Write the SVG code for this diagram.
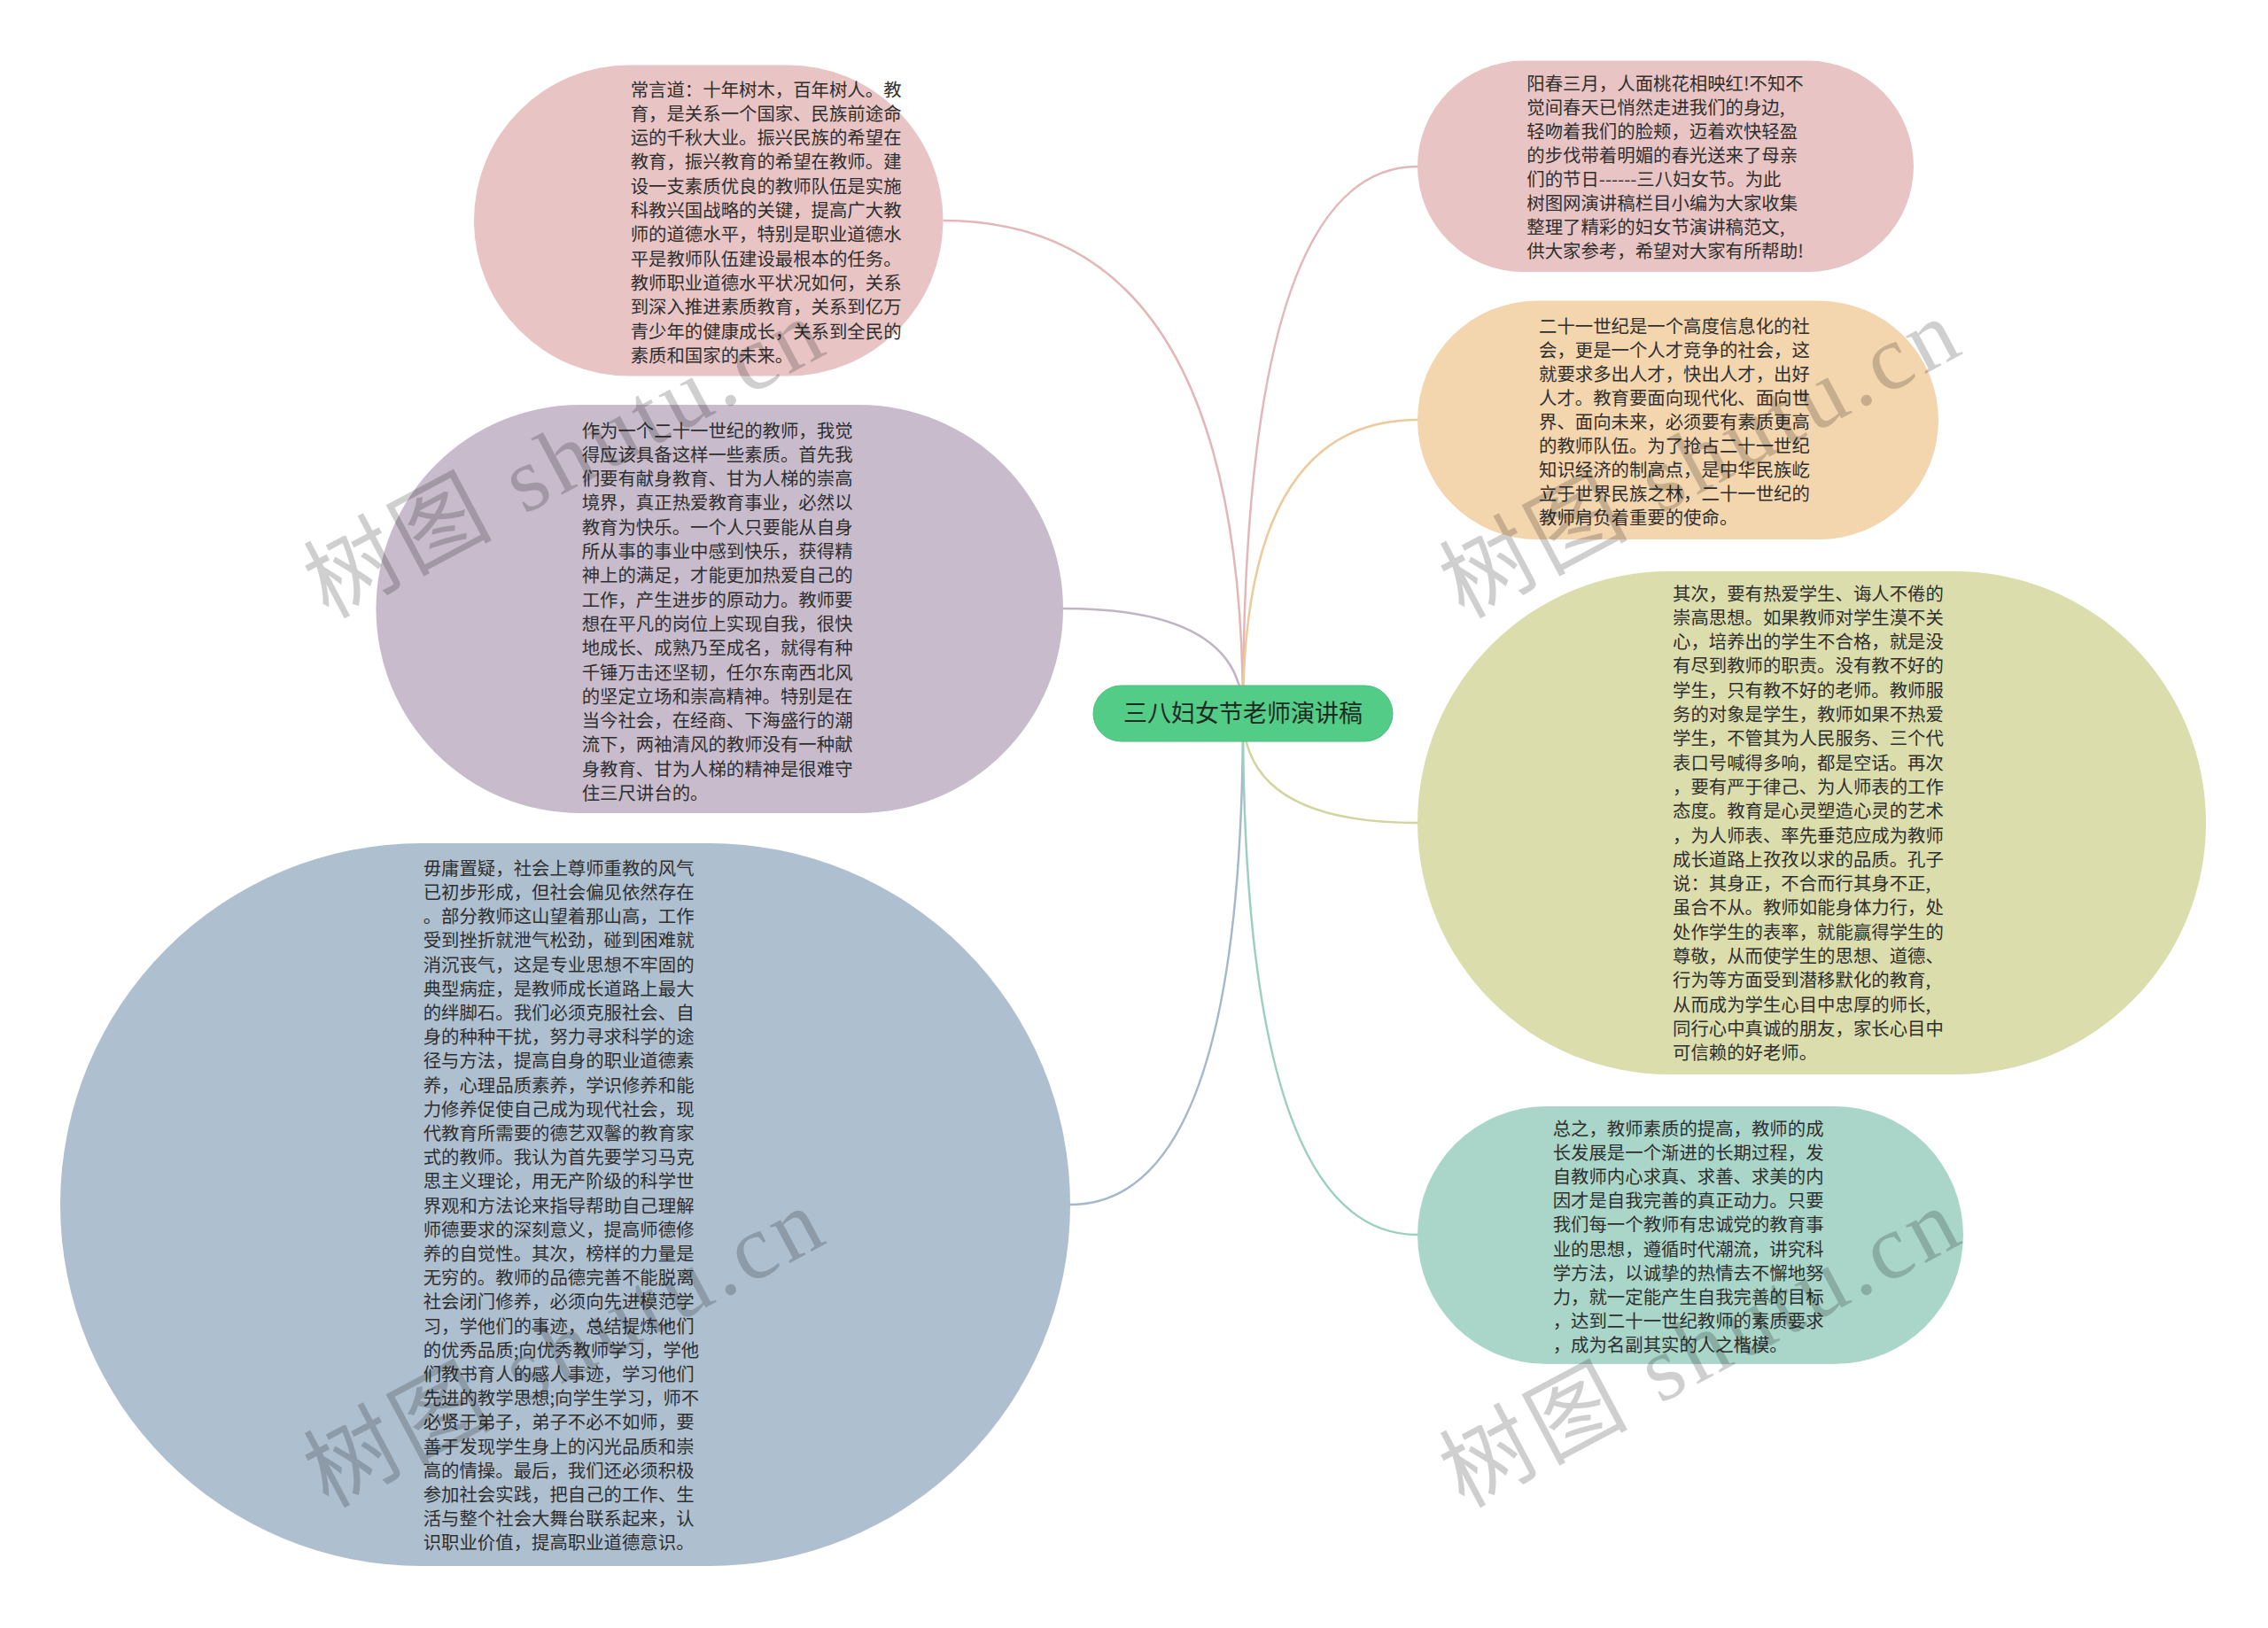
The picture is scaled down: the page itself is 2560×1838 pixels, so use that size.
<svg xmlns="http://www.w3.org/2000/svg" width="2560" height="1838" viewBox="0 0 2560 1838">
<style>
.t{font-family:"Noto Sans CJK SC","Noto Sans",sans-serif;font-size:20.4px;fill:#2f2f2f}
.ct{font-family:"Noto Sans CJK SC","Noto Sans",sans-serif;font-size:27px;fill:#1f2a22}
.ln{fill:none;stroke-width:2.5}
.wm{font-family:"Liberation Serif","Noto Sans CJK SC",serif;font-size:104px;fill:#000;fill-opacity:0.19}
</style>
<rect width="2560" height="1838" fill="#ffffff"/>
<g id="connectors">
<path class="ln" stroke="#e3b6b7" d="M1403,806 Q1403,249 1064.5,249"/>
<path class="ln" stroke="#c2b3c6" d="M1403,806 Q1403,687 1200,687"/>
<path class="ln" stroke="#a7b8cb" d="M1403,806 Q1403,1360 1208,1360"/>
<path class="ln" stroke="#e3b6b7" d="M1403,806 Q1403,188 1600,188"/>
<path class="ln" stroke="#efc99b" d="M1403,806 Q1403,474 1600,474"/>
<path class="ln" stroke="#d3d59e" d="M1403,806 Q1403,929 1600,929"/>
<path class="ln" stroke="#9dcfc1" d="M1403,806 Q1403,1394 1600,1394"/>
</g>
<g id="center">
<rect x="1234" y="774" width="338" height="63" rx="31.5" fill="#52cc86" stroke="#4bbd7b" stroke-width="1"/>
<text class="ct" x="1403" y="815" text-anchor="middle">三八妇女节老师演讲稿</text>
</g>
<g id="node1">
<rect x="535" y="73.5" width="529.5" height="351" rx="175.5" fill="#e8c4c4"/>
<text class="t" x="711.7" y="108.5"><tspan x="711.7">常言道：十年树木，百年树人。教</tspan><tspan x="711.7" dy="27.3">育，是关系一个国家、民族前途命</tspan><tspan x="711.7" dy="27.3">运的千秋大业。振兴民族的希望在</tspan><tspan x="711.7" dy="27.3">教育，振兴教育的希望在教师。建</tspan><tspan x="711.7" dy="27.3">设一支素质优良的教师队伍是实施</tspan><tspan x="711.7" dy="27.3">科教兴国战略的关键，提高广大教</tspan><tspan x="711.7" dy="27.3">师的道德水平，特别是职业道德水</tspan><tspan x="711.7" dy="27.3">平是教师队伍建设最根本的任务。</tspan><tspan x="711.7" dy="27.3">教师职业道德水平状况如何，关系</tspan><tspan x="711.7" dy="27.3">到深入推进素质教育，关系到亿万</tspan><tspan x="711.7" dy="27.3">青少年的健康成长，关系到全民的</tspan><tspan x="711.7" dy="27.3">素质和国家的未来。</tspan></text>
</g>
<g id="node2">
<rect x="424.5" y="457" width="775.5" height="461" rx="230.5" fill="#c8bbcb"/>
<text class="t" x="656.7" y="493.5"><tspan x="656.7">作为一个二十一世纪的教师，我觉</tspan><tspan x="656.7" dy="27.3">得应该具备这样一些素质。首先我</tspan><tspan x="656.7" dy="27.3">们要有献身教育、甘为人梯的崇高</tspan><tspan x="656.7" dy="27.3">境界，真正热爱教育事业，必然以</tspan><tspan x="656.7" dy="27.3">教育为快乐。一个人只要能从自身</tspan><tspan x="656.7" dy="27.3">所从事的事业中感到快乐，获得精</tspan><tspan x="656.7" dy="27.3">神上的满足，才能更加热爱自己的</tspan><tspan x="656.7" dy="27.3">工作，产生进步的原动力。教师要</tspan><tspan x="656.7" dy="27.3">想在平凡的岗位上实现自我，很快</tspan><tspan x="656.7" dy="27.3">地成长、成熟乃至成名，就得有种</tspan><tspan x="656.7" dy="27.3">千锤万击还坚韧，任尔东南西北风</tspan><tspan x="656.7" dy="27.3">的坚定立场和崇高精神。特别是在</tspan><tspan x="656.7" dy="27.3">当今社会，在经商、下海盛行的潮</tspan><tspan x="656.7" dy="27.3">流下，两袖清风的教师没有一种献</tspan><tspan x="656.7" dy="27.3">身教育、甘为人梯的精神是很难守</tspan><tspan x="656.7" dy="27.3">住三尺讲台的。</tspan></text>
</g>
<g id="node3">
<rect x="68" y="952" width="1140" height="816" rx="408" fill="#aebfd0"/>
<text class="t" x="477.7" y="987.8"><tspan x="477.7">毋庸置疑，社会上尊师重教的风气</tspan><tspan x="477.7" dy="27.2">已初步形成，但社会偏见依然存在</tspan><tspan x="477.7" dy="27.2">。部分教师这山望着那山高，工作</tspan><tspan x="477.7" dy="27.2">受到挫折就泄气松劲，碰到困难就</tspan><tspan x="477.7" dy="27.2">消沉丧气，这是专业思想不牢固的</tspan><tspan x="477.7" dy="27.2">典型病症，是教师成长道路上最大</tspan><tspan x="477.7" dy="27.2">的绊脚石。我们必须克服社会、自</tspan><tspan x="477.7" dy="27.2">身的种种干扰，努力寻求科学的途</tspan><tspan x="477.7" dy="27.2">径与方法，提高自身的职业道德素</tspan><tspan x="477.7" dy="27.2">养，心理品质素养，学识修养和能</tspan><tspan x="477.7" dy="27.2">力修养促使自己成为现代社会，现</tspan><tspan x="477.7" dy="27.2">代教育所需要的德艺双馨的教育家</tspan><tspan x="477.7" dy="27.2">式的教师。我认为首先要学习马克</tspan><tspan x="477.7" dy="27.2">思主义理论，用无产阶级的科学世</tspan><tspan x="477.7" dy="27.2">界观和方法论来指导帮助自己理解</tspan><tspan x="477.7" dy="27.2">师德要求的深刻意义，提高师德修</tspan><tspan x="477.7" dy="27.2">养的自觉性。其次，榜样的力量是</tspan><tspan x="477.7" dy="27.2">无穷的。教师的品德完善不能脱离</tspan><tspan x="477.7" dy="27.2">社会闭门修养，必须向先进模范学</tspan><tspan x="477.7" dy="27.2">习，学他们的事迹，总结提炼他们</tspan><tspan x="477.7" dy="27.2">的优秀品质;向优秀教师学习，学他</tspan><tspan x="477.7" dy="27.2">们教书育人的感人事迹，学习他们</tspan><tspan x="477.7" dy="27.2">先进的教学思想;向学生学习，师不</tspan><tspan x="477.7" dy="27.2">必贤于弟子，弟子不必不如师，要</tspan><tspan x="477.7" dy="27.2">善于发现学生身上的闪光品质和崇</tspan><tspan x="477.7" dy="27.2">高的情操。最后，我们还必须积极</tspan><tspan x="477.7" dy="27.2">参加社会实践，把自己的工作、生</tspan><tspan x="477.7" dy="27.2">活与整个社会大舞台联系起来，认</tspan><tspan x="477.7" dy="27.2">识职业价值，提高职业道德意识。</tspan></text>
</g>
<g id="node4">
<rect x="1600" y="68.6" width="560" height="238.4" rx="119.2" fill="#e8c4c4"/>
<text class="t" x="1723.3" y="101.5"><tspan x="1723.3">阳春三月，人面桃花相映红!不知不</tspan><tspan x="1723.3" dy="27.1">觉间春天已悄然走进我们的身边,</tspan><tspan x="1723.3" dy="27.1">轻吻着我们的脸颊，迈着欢快轻盈</tspan><tspan x="1723.3" dy="27.1">的步伐带着明媚的春光送来了母亲</tspan><tspan x="1723.3" dy="27.1">们的节日------三八妇女节。为此</tspan><tspan x="1723.3" dy="27.1">树图网演讲稿栏目小编为大家收集</tspan><tspan x="1723.3" dy="27.1">整理了精彩的妇女节演讲稿范文,</tspan><tspan x="1723.3" dy="27.1">供大家参考，希望对大家有所帮助!</tspan></text>
</g>
<g id="node5">
<rect x="1600" y="339.6" width="588" height="269.4" rx="134.7" fill="#f3d5ae"/>
<text class="t" x="1737" y="375.5"><tspan x="1737">二十一世纪是一个高度信息化的社</tspan><tspan x="1737" dy="27.1">会，更是一个人才竞争的社会，这</tspan><tspan x="1737" dy="27.1">就要求多出人才，快出人才，出好</tspan><tspan x="1737" dy="27.1">人才。教育要面向现代化、面向世</tspan><tspan x="1737" dy="27.1">界、面向未来，必须要有素质更高</tspan><tspan x="1737" dy="27.1">的教师队伍。为了抢占二十一世纪</tspan><tspan x="1737" dy="27.1">知识经济的制高点，是中华民族屹</tspan><tspan x="1737" dy="27.1">立于世界民族之林，二十一世纪的</tspan><tspan x="1737" dy="27.1">教师肩负着重要的使命。</tspan></text>
</g>
<g id="node6">
<rect x="1600" y="645" width="890" height="568" rx="284" fill="#dbddac"/>
<text class="t" x="1888" y="677.5"><tspan x="1888">其次，要有热爱学生、诲人不倦的</tspan><tspan x="1888" dy="27.3">崇高思想。如果教师对学生漠不关</tspan><tspan x="1888" dy="27.3">心，培养出的学生不合格，就是没</tspan><tspan x="1888" dy="27.3">有尽到教师的职责。没有教不好的</tspan><tspan x="1888" dy="27.3">学生，只有教不好的老师。教师服</tspan><tspan x="1888" dy="27.3">务的对象是学生，教师如果不热爱</tspan><tspan x="1888" dy="27.3">学生，不管其为人民服务、三个代</tspan><tspan x="1888" dy="27.3">表口号喊得多响，都是空话。再次</tspan><tspan x="1888" dy="27.3">，要有严于律己、为人师表的工作</tspan><tspan x="1888" dy="27.3">态度。教育是心灵塑造心灵的艺术</tspan><tspan x="1888" dy="27.3">，为人师表、率先垂范应成为教师</tspan><tspan x="1888" dy="27.3">成长道路上孜孜以求的品质。孔子</tspan><tspan x="1888" dy="27.3">说：其身正，不合而行其身不正,</tspan><tspan x="1888" dy="27.3">虽合不从。教师如能身体力行，处</tspan><tspan x="1888" dy="27.3">处作学生的表率，就能赢得学生的</tspan><tspan x="1888" dy="27.3">尊敬，从而使学生的思想、道德、</tspan><tspan x="1888" dy="27.3">行为等方面受到潜移默化的教育,</tspan><tspan x="1888" dy="27.3">从而成为学生心目中忠厚的师长,</tspan><tspan x="1888" dy="27.3">同行心中真诚的朋友，家长心目中</tspan><tspan x="1888" dy="27.3">可信赖的好老师。</tspan></text>
</g>
<g id="node7">
<rect x="1600" y="1249" width="616" height="291" rx="145.5" fill="#a9d6c9"/>
<text class="t" x="1752.7" y="1281.5"><tspan x="1752.7">总之，教师素质的提高，教师的成</tspan><tspan x="1752.7" dy="27.2">长发展是一个渐进的长期过程，发</tspan><tspan x="1752.7" dy="27.2">自教师内心求真、求善、求美的内</tspan><tspan x="1752.7" dy="27.2">因才是自我完善的真正动力。只要</tspan><tspan x="1752.7" dy="27.2">我们每一个教师有忠诚党的教育事</tspan><tspan x="1752.7" dy="27.2">业的思想，遵循时代潮流，讲究科</tspan><tspan x="1752.7" dy="27.2">学方法，以诚挚的热情去不懈地努</tspan><tspan x="1752.7" dy="27.2">力，就一定能产生自我完善的目标</tspan><tspan x="1752.7" dy="27.2">，达到二十一世纪教师的素质要求</tspan><tspan x="1752.7" dy="27.2">，成为名副其实的人之楷模。</tspan></text>
</g>
<g id="watermarks">
<text class="wm" transform="translate(370,699) rotate(-28)" textLength="640" lengthAdjust="spacing">树图 shutu.cn</text>
<text class="wm" transform="translate(1652,699) rotate(-28)" textLength="640" lengthAdjust="spacing">树图 shutu.cn</text>
<text class="wm" transform="translate(370,1703) rotate(-28)" textLength="640" lengthAdjust="spacing">树图 shutu.cn</text>
<text class="wm" transform="translate(1652,1703) rotate(-28)" textLength="640" lengthAdjust="spacing">树图 shutu.cn</text>
</g>
</svg>
